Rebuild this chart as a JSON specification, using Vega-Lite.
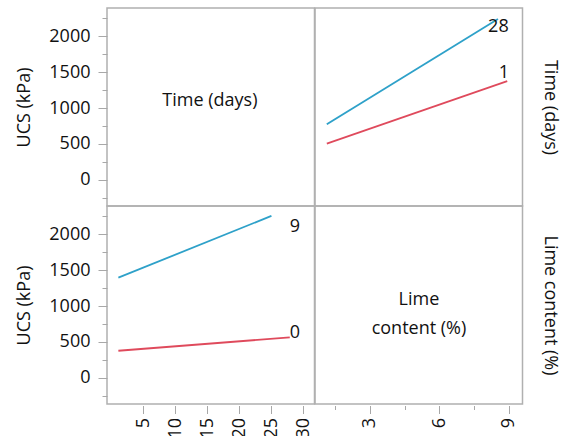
{
  "$schema": "https://vega.github.io/schema/vega-lite/v6.json",
  "padding": {"left": 15, "top": 7, "right": 5, "bottom": 5},
  "config": {
    "view": {"stroke": "#b0b0b0", "strokeWidth": 1.5},
    "font": "Open Sans",
    "text": {"font": "Open Sans", "fontSize": 18},
    "axis": {"labelFont": "Open Sans", "titleFont": "Open Sans", "labelFontSize": 18, "titleFontSize": 18, "titleFontWeight": "normal", "labelColor": "#111111", "titleColor": "#111111", "tickColor": "#a8a8a8", "grid": false, "domain": false}
  },
  "columns": 2,
  "spacing": 0,
  "bounds": "flush",
  "resolve": {"scale": {"x": "independent", "y": "independent", "color": "shared"}},
  "datasets": {
    "lines": [
      {"panel": "TR", "series": "1", "x": 1.14, "ucs": 504},
      {"panel": "TR", "series": "1", "x": 8.93, "ucs": 1375},
      {"panel": "TR", "series": "28", "x": 1.14, "ucs": 774},
      {"panel": "TR", "series": "28", "x": 8.53, "ucs": 2240},
      {"panel": "BL", "series": "0", "x": 1.08, "ucs": 377},
      {"panel": "BL", "series": "0", "x": 27.9, "ucs": 563},
      {"panel": "BL", "series": "9", "x": 1.08, "ucs": 1395},
      {"panel": "BL", "series": "9", "x": 25.03, "ucs": 2255}
    ],
    "labels": [
      {"panel": "TR", "series": "28", "x": 8.55, "ucs": 2126},
      {"panel": "TR", "series": "1", "x": 8.79, "ucs": 1492},
      {"panel": "BL", "series": "9", "x": 28.7, "ucs": 2106},
      {"panel": "BL", "series": "0", "x": 28.7, "ucs": 630}
    ],
    "names": [
      {"panel": "TL", "x": 15.4, "ucs": 1097, "name": "Time (days)"},
      {"panel": "BR", "x": 5.12, "ucs": 1080, "name": "Lime\ncontent (%)"}
    ]
  },
  "concat": [
    {
      "width": 207.5, "height": 198,
      "data": {"name": "names"},
      "transform": [{"filter": "datum.panel === 'TL'"}],
      "mark": {"type": "text", "color": "#111111", "baseline": "middle", "align": "center"},
      "encoding": {
        "x": {"field": "x", "type": "quantitative", "scale": {"domain": [-0.7, 31.77], "nice": false, "zero": false}, "axis": null},
        "y": {"field": "ucs", "type": "quantitative", "scale": {"domain": [-365, 2393], "nice": false, "zero": false},
          "axis": {"title": "UCS (kPa)", "values": [-250, 0, 250, 500, 750, 1000, 1250, 1500, 1750, 2000, 2250],
            "labelExpr": "datum.value % 500 === 0 ? format(datum.value, 'd') : ''",
            "tickSize": {"condition": {"test": "datum.value % 500 === 0", "value": 9}, "value": 5},
            "labelPadding": 8, "titlePadding": 15}},
        "text": {"field": "name"}
      }
    },
    {
      "width": 207.5, "height": 198,
      "encoding": {
        "x": {"field": "x", "type": "quantitative", "scale": {"domain": [0.63, 9.59], "nice": false, "zero": false}, "axis": null},
        "y": {"field": "ucs", "type": "quantitative", "scale": {"domain": [-365, 2393], "nice": false, "zero": false},
          "axis": {"orient": "right", "title": "Time (days)", "labels": false, "ticks": false, "domain": false, "titleAngle": 90, "titlePadding": 18}}
      },
      "layer": [
        {
          "data": {"name": "lines"},
          "transform": [{"filter": "datum.panel === 'TR'"}],
          "mark": {"type": "line", "strokeWidth": 1.8},
          "encoding": {
            "color": {"field": "series", "type": "nominal", "scale": {"domain": ["0", "1", "9", "28"], "range": ["#df4a5c", "#df4a5c", "#2ea1c9", "#2ea1c9"]}, "legend": null}
          }
        },
        {
          "data": {"name": "labels"},
          "transform": [{"filter": "datum.panel === 'TR'"}],
          "mark": {"type": "text", "color": "#111111", "baseline": "middle", "align": "center"},
          "encoding": {"text": {"field": "series"}}
        }
      ]
    },
    {
      "width": 207.5, "height": 198,
      "encoding": {
        "x": {"field": "x", "type": "quantitative", "scale": {"domain": [-0.7, 31.77], "nice": false, "zero": false},
          "axis": {"title": null, "values": [5, 10, 15, 20, 25, 30], "labelAngle": -90, "labelAlign": "right", "labelBaseline": "middle", "tickSize": 8, "labelPadding": 4, "offset": 1.5}},
        "y": {"field": "ucs", "type": "quantitative", "scale": {"domain": [-365, 2393], "nice": false, "zero": false},
          "axis": {"title": "UCS (kPa)", "values": [-250, 0, 250, 500, 750, 1000, 1250, 1500, 1750, 2000, 2250],
            "labelExpr": "datum.value % 500 === 0 ? format(datum.value, 'd') : ''",
            "tickSize": {"condition": {"test": "datum.value % 500 === 0", "value": 9}, "value": 5},
            "labelPadding": 8, "titlePadding": 15}}
      },
      "layer": [
        {
          "data": {"name": "lines"},
          "transform": [{"filter": "datum.panel === 'BL'"}],
          "mark": {"type": "line", "strokeWidth": 1.8},
          "encoding": {
            "color": {"field": "series", "type": "nominal", "legend": null}
          }
        },
        {
          "data": {"name": "labels"},
          "transform": [{"filter": "datum.panel === 'BL'"}],
          "mark": {"type": "text", "color": "#111111", "baseline": "middle", "align": "center"},
          "encoding": {"text": {"field": "series"}}
        }
      ]
    },
    {
      "width": 207.5, "height": 198,
      "data": {"name": "names"},
      "transform": [{"filter": "datum.panel === 'BR'"}],
      "mark": {"type": "text", "color": "#111111", "baseline": "middle", "align": "center", "lineBreak": "\n", "lineHeight": 29},
      "encoding": {
        "x": {"field": "x", "type": "quantitative", "scale": {"domain": [0.63, 9.59], "nice": false, "zero": false},
          "axis": {"title": null, "values": [1.5, 3, 4.5, 6, 7.5, 9], "labelExpr": "datum.value % 3 === 0 ? datum.label : ''",
            "tickSize": {"condition": {"test": "datum.value % 3 === 0", "value": 8}, "value": 4},
            "labelAngle": -90, "labelAlign": "right", "labelBaseline": "middle", "labelPadding": 4, "offset": 1.5}},
        "y": {"field": "ucs", "type": "quantitative", "scale": {"domain": [-365, 2393], "nice": false, "zero": false},
          "axis": {"orient": "right", "title": "Lime content (%)", "labels": false, "ticks": false, "domain": false, "titleAngle": 90, "titlePadding": 18}},
        "text": {"field": "name"}
      }
    }
  ]
}
